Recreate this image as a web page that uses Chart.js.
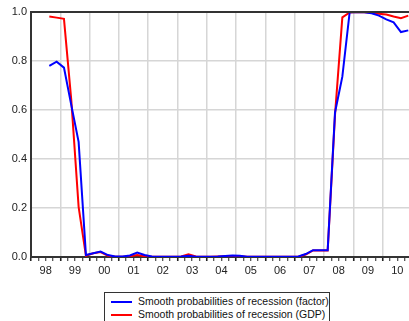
<!DOCTYPE html>
<html>
<head>
<meta charset="utf-8">
<script src="https://cdn.jsdelivr.net/npm/chart.js@4.4.0/dist/chart.umd.min.js"></script>
<style>
  body { margin: 0; background: #fff; width: 409px; height: 321px; overflow: hidden; position: relative; }
  #wrap { position: absolute; left: 0; top: 0; width: 409px; height: 285px; }
  #legend {
    position: absolute; left: 104px; top: 292px; width: 226px; height: 40px;
    border: 1px solid #333; font: 10.5px 'Liberation Sans', Arial, sans-serif; color: #111;
    padding-top: 2px; box-sizing: border-box;
  }
  .row { position: relative; height: 12.6px; line-height: 12.6px; }
  .row i { position: absolute; left: 6px; top: 6px; width: 21px; height: 2px; }
  .row span { position: absolute; left: 33px; top: 0; white-space: nowrap; }
</style>
</head>
<body>
<div id="wrap"><canvas id="chart"></canvas></div>
<div id="legend">
  <div class="row"><i style="background:#0000ff"></i><span>Smooth probabilities of recession (factor)</span></div>
  <div class="row"><i style="background:#ff0000"></i><span>Smooth probabilities of recession (GDP)</span></div>
</div>
<script>
// ── Data (quarterly) ──────────────────────────────────────────
const quarters = [
  '1998Q3','1998Q4',
  '1999Q1','1999Q2','1999Q3','1999Q4',
  '2000Q1','2000Q2','2000Q3','2000Q4',
  '2001Q1','2001Q2','2001Q3','2001Q4',
  '2002Q1','2002Q2','2002Q3','2002Q4',
  '2003Q1','2003Q2','2003Q3','2003Q4',
  '2004Q1','2004Q2','2004Q3','2004Q4',
  '2005Q1','2005Q2','2005Q3','2005Q4',
  '2006Q1','2006Q2','2006Q3','2006Q4',
  '2007Q1','2007Q2','2007Q3','2007Q4',
  '2008Q1','2008Q2','2008Q3','2008Q4',
  '2009Q1','2009Q2','2009Q3','2009Q4',
  '2010Q1','2010Q2','2010Q3','2010Q4'
];

const factorProb = [
  0.780, 0.797,
  0.773, 0.620, 0.470, 0.008,
  0.015, 0.022, 0.008, 0.002,
  0.002, 0.006, 0.018, 0.008,
  0.002, 0.001, 0.001, 0.001,
  0.002, 0.005, 0.001, 0.001,
  0.001, 0.002, 0.004, 0.006,
  0.005, 0.001, 0.001, 0.001,
  0.001, 0.001, 0.001, 0.001,
  0.002, 0.012, 0.028, 0.028,
  0.028, 0.590, 0.736, 0.999,
  1.000, 0.999, 0.995, 0.985,
  0.970, 0.958, 0.918, 0.925
];

const gdpProb = [
  0.982, 0.977,
  0.972, 0.640, 0.205, 0.005,
  0.015, 0.020, 0.005, 0.001,
  0.001, 0.003, 0.008, 0.003,
  0.001, 0.001, 0.001, 0.001,
  0.002, 0.011, 0.002, 0.001,
  0.001, 0.002, 0.003, 0.004,
  0.003, 0.001, 0.001, 0.001,
  0.001, 0.001, 0.001, 0.001,
  0.001, 0.010, 0.027, 0.027,
  0.027, 0.580, 0.978, 0.998,
  1.000, 0.999, 0.997, 0.993,
  0.990, 0.982, 0.975, 0.985
];

const yearLabels = ['98','99','00','01','02','03','04','05','06','07','08','09','10'];
const yTicks     = [0, 0.2, 0.4, 0.6, 0.8, 1.0];
const firstYear  = 1998;

// quarter label -> position on a quarter-count axis (point sits mid-quarter)
const qPos = q => (parseInt(q.slice(0, 4)) - firstYear) * 4 + (parseInt(q.slice(5)) - 1) + 0.5;
const toPoints = vals => quarters.map((q, i) => ({ x: qPos(q), y: vals[i] }));

// ── Defaults ──────────────────────────────────────────────────
Chart.defaults.font.family = "'Liberation Sans', Arial, sans-serif";
Chart.defaults.font.size   = 11;
Chart.defaults.color       = '#222';

const GRID = '#d6d6d6';
const AXIS = '#333';

// top frame line of the plot box
const frame = {
  id: 'frame',
  afterDraw(chart) {
    const { ctx, chartArea: a } = chart;
    ctx.save();
    ctx.strokeStyle = AXIS;
    ctx.lineWidth = 2;
    ctx.beginPath();
    ctx.moveTo(a.left - 1, a.top);
    ctx.lineTo(a.right, a.top);
    ctx.stroke();
    ctx.restore();
  }
};

const lineStyle = {
  borderWidth: 2,
  pointRadius: 0,
  tension: 0,
  fill: false
};

new Chart(document.getElementById('chart'), {
  type: 'line',
  data: {
    datasets: [
      { label: 'Smooth probabilities of recession (factor)', data: toPoints(factorProb), borderColor: '#0000ff', ...lineStyle },
      { label: 'Smooth probabilities of recession (GDP)',    data: toPoints(gdpProb),    borderColor: '#ff0000', ...lineStyle }
    ]
  },
  options: {
    responsive: true,
    maintainAspectRatio: false,
    animation: false,
    layout: { padding: { top: 12, right: 0, left: 0, bottom: 0 } },
    plugins: { legend: { display: false }, tooltip: { enabled: false } },
    scales: {
      x: {
        type: 'linear',
        min: 0,
        max: 51.6,
        afterBuildTicks: s => {
          s.ticks = Array.from({ length: 52 }, (_, i) => ({ value: i }));
        },
        afterFit: s => { s.height = 28; },
        ticks: {
          autoSkip: false,
          maxRotation: 0,
          padding: 3,
          callback: v => (v % 4 === 2 ? yearLabels[(v - 2) / 4] : '')
        },
        grid: {
          color: c => (c.tick && c.tick.value % 4 === 0 && c.tick.value > 0 ? GRID : 'transparent'),
          lineWidth: 1.5,
          tickColor: '#222',
          tickWidth: c => (c.tick && c.tick.value % 4 === 0 ? 1.6 : 1),
          tickLength: 4
        },
        border: { color: AXIS, width: 2 }
      },
      y: {
        min: 0,
        max: 1,
        afterBuildTicks: s => { s.ticks = yTicks.map(v => ({ value: v })); },
        afterFit: s => { s.width = 31; },
        ticks: { padding: 4, callback: v => v.toFixed(1) },
        grid: {
          color: c => (c.tick && c.tick.value > 0 && c.tick.value < 1 ? GRID : 'transparent'),
          lineWidth: 1.5,
          drawTicks: false
        },
        border: { color: AXIS, width: 2 }
      }
    }
  },
  plugins: [frame]
});
</script>
</body>
</html>
